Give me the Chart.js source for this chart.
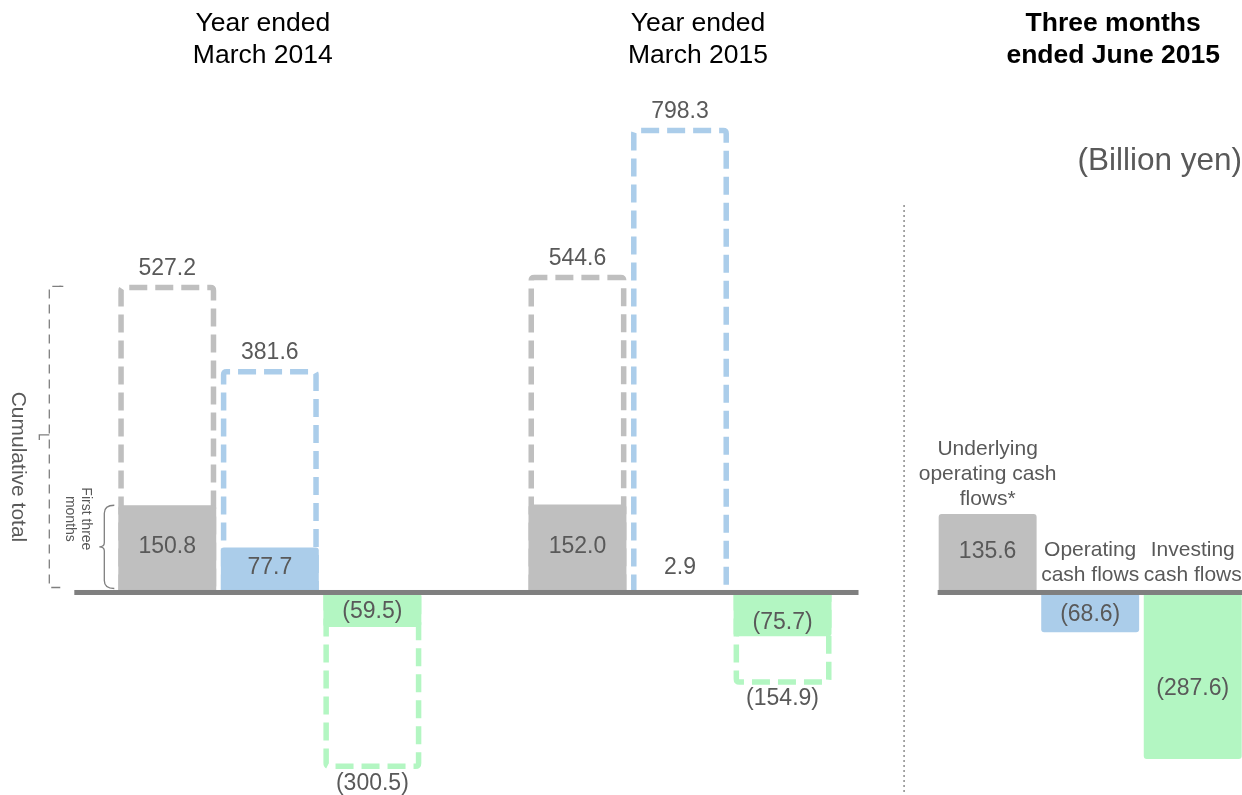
<!DOCTYPE html>
<html>
<head>
<meta charset="utf-8">
<script src="https://cdn.jsdelivr.net/npm/chart.js@4.4.1/dist/chart.umd.min.js"></script>
<style>
html,body{margin:0;padding:0;background:#fff;overflow:hidden;}
#wrap{position:relative;width:1244px;height:795px;}
</style>
</head>
<body>
<div id="wrap"><canvas id="c"></canvas></div>
<script>
// ---- data ----
const categories = [
  'Underlying operating cash flows* (FY2014)', 'Operating cash flows (FY2014)', 'Investing cash flows (FY2014)', '',
  'Underlying operating cash flows* (FY2015)', 'Operating cash flows (FY2015)', 'Investing cash flows (FY2015)', '',
  'Underlying operating cash flows*', 'Operating cash flows', 'Investing cash flows'
];
const firstThreeMonths = [150.8, 77.7, -59.5, null, 152.0, 2.9, -75.7, null, 135.6, -68.6, -287.6];
const cumulativeTotal  = [527.2, 381.6, -300.5, null, 544.6, 798.3, -154.9, null, null, null, null];
const flowType = ['u','o','i',null,'u','o','i',null,'u','o','i'];
const periodTitles = [
  {lines:['Year ended','March 2014'], first:0, last:2, bold:false, dx:-7},
  {lines:['Year ended','March 2015'], first:4, last:6, bold:false, dx:18},
  {lines:['Three months','ended June 2015'], first:8, last:10, bold:true, dx:23}
];
const q1Labels = [
  {slot:8, lines:['Underlying','operating cash','flows*']},
  {slot:9, lines:['Operating','cash flows']},
  {slot:10, lines:['Investing','cash flows']}
];
const unitLabel = '(Billion yen)';
const axisLabel = 'Cumulative total';
const bracketLabel = ['First three','months'];

const COLORS = {u:'#BFBFBF', o:'#ABCDEA', i:'#B3F6C2'};
const TEXT = '#595959';
const FONT = '"Liberation Sans", Arial, sans-serif';

function fmt(v){
  return v < 0 ? '(' + Math.abs(v).toFixed(1) + ')' : v.toFixed(1);
}

function roundedOpenRect(ctx, l, r, t, base, rad){
  const dir = t < base ? 1 : -1;
  ctx.beginPath();
  ctx.moveTo(l, base);
  ctx.lineTo(l, t + dir*rad);
  ctx.quadraticCurveTo(l, t, l + rad, t);
  ctx.lineTo(r - rad, t);
  ctx.quadraticCurveTo(r, t, r, t + dir*rad);
  ctx.lineTo(r, base);
  ctx.stroke();
}

const decor = {
  id:'decor',
  beforeDatasetsDraw(chart){
    const ctx = chart.ctx;
    const meta = chart.getDatasetMeta(1);
    ctx.save();
    ctx.lineWidth = 5.5;
    ctx.setLineDash([18, 8]);
    meta.data.forEach((el, i) => {
      const v = cumulativeTotal[i];
      if (v === null || v === undefined) return;
      const p = el.getProps(['x','y','base','width'], true);
      const l = p.x - p.width/2 + 2.75, r = p.x + p.width/2 - 2.75;
      ctx.strokeStyle = COLORS[flowType[i]];
      roundedOpenRect(ctx, l, r, p.y, p.base, 3);
    });
    ctx.restore();
  },
  afterDatasetsDraw(chart){
    const ctx = chart.ctx;
    const y = chart.scales.y;
    const zero = y.getPixelForValue(0);
    const m0 = chart.getDatasetMeta(0).data;
    const m1 = chart.getDatasetMeta(1).data;
    const bw = m0[0].width;
    // baselines
    ctx.save();
    ctx.fillStyle = '#7F7F7F';
    const leftStart = m0[0].x - bw/2 - 44;
    const leftEnd = m0[6].x + bw/2 + 27;
    ctx.fillRect(leftStart, zero - 2.5, leftEnd - leftStart, 5);
    const rStart = m0[8].x - bw/2 - 1;
    ctx.fillRect(rStart, zero - 2.5, chart.width - rStart, 5);
    // separator dotted line
    const sepX = (m0[6].x + m0[8].x)/2 + 19;
    ctx.strokeStyle = '#8C8C8C';
    ctx.lineWidth = 1.5;
    ctx.setLineDash([2, 3]);
    ctx.beginPath();
    ctx.moveTo(sepX, 205);
    ctx.lineTo(sepX, chart.height);
    ctx.stroke();
    ctx.setLineDash([]);

    ctx.textAlign = 'center';
    ctx.textBaseline = 'middle';
    ctx.fillStyle = TEXT;
    ctx.font = '23px ' + FONT;
    // solid bar labels
    m0.forEach((el, i) => {
      const v = firstThreeMonths[i];
      if (v === null || v === undefined) return;
      let ty;
      const h = Math.abs(el.base - el.y);
      const mid = (el.y + el.base)/2;
      if (h < 20) ty = Math.min(el.y, el.base) - 23;
      else if (v >= 0) ty = mid - 2;
      else if (h > 100) ty = mid + 13;
      else if (flowType[i] === 'i' && h > 40) ty = mid + 8;
      else ty = mid + 2;
      ctx.fillText(fmt(v), el.x, ty);
    });
    // cumulative labels
    m1.forEach((el, i) => {
      const v = cumulativeTotal[i];
      if (v === null || v === undefined) return;
      const ty = v >= 0 ? el.y - 19 : el.y + 17;
      ctx.fillText(fmt(v), el.x, ty);
    });
    // period titles
    periodTitles.forEach(pt => {
      const cx = (m0[pt.first].x + m0[pt.last].x)/2 + pt.dx;
      ctx.fillStyle = '#000';
      ctx.font = (pt.bold ? 'bold ' : '') + '26.5px ' + FONT;
      pt.lines.forEach((ln, k) => ctx.fillText(ln, cx, 24 + k*32));
    });
    // unit
    ctx.fillStyle = TEXT;
    ctx.font = '31.5px ' + FONT;
    ctx.textAlign = 'right';
    ctx.fillText(unitLabel, 1242, 161);
    ctx.textAlign = 'center';
    // q1 category labels
    ctx.font = '21px ' + FONT;
    q1Labels.forEach(q => {
      const el = m0[q.slot];
      const n = q.lines.length;
      const top = Math.min(el.y, el.base);
      const last = q.slot === 8 ? top - 15 : zero - 17;
      q.lines.forEach((ln, k) => ctx.fillText(ln, el.x, last - (n-1-k)*25));
    });
    // cumulative total bracket
    const c0 = m1[0];
    const bTop = c0.y - 1, bBot = zero - 5;
    ctx.strokeStyle = '#7F7F7F';
    ctx.lineWidth = 1.3;
    ctx.setLineDash([9, 6]);
    const bx = leftStart - 25;
    ctx.beginPath();
    ctx.moveTo(bx + 12, bTop); ctx.lineTo(bx, bTop); ctx.lineTo(bx, bBot); ctx.lineTo(bx + 12, bBot);
    ctx.stroke();
    ctx.setLineDash([]);
    ctx.beginPath();
    ctx.moveTo(bx + 10, bTop); ctx.lineTo(bx + 14, bTop);
    const bMid = bTop + (bBot - bTop)/2 - 2;
    ctx.moveTo(bx, bMid); ctx.lineTo(bx - 10, bMid); ctx.lineTo(bx - 10, bMid + 5);
    ctx.stroke();
    // first three months brace
    const g0 = m0[0];
    const fTop = g0.y, fBot = zero - 4;
    const fx = g0.x - bw/2 - 16;
    const fMid = (fTop + fBot)/2;
    ctx.beginPath();
    ctx.moveTo(fx + 12, fTop);
    ctx.quadraticCurveTo(fx + 2, fTop, fx + 2, fTop + 8);
    ctx.lineTo(fx + 2, fMid - 4);
    ctx.quadraticCurveTo(fx + 2, fMid, fx - 3, fMid);
    ctx.quadraticCurveTo(fx + 2, fMid, fx + 2, fMid + 4);
    ctx.lineTo(fx + 2, fBot - 8);
    ctx.quadraticCurveTo(fx + 2, fBot, fx + 12, fBot);
    ctx.stroke();
    // rotated texts
    ctx.fillStyle = TEXT;
    ctx.save();
    ctx.translate(18, bMid + 32);
    ctx.rotate(Math.PI/2);
    ctx.font = '21px ' + FONT;
    ctx.fillText(axisLabel, 0, 0);
    ctx.restore();
    ctx.save();
    ctx.translate(fx - 16, fMid - 28);
    ctx.rotate(Math.PI/2);
    ctx.font = '14px ' + FONT;
    ctx.fillText(bracketLabel[0], 0, 0);
    ctx.fillText(bracketLabel[1], 0, 16);
    ctx.restore();
    ctx.restore();
  }
};

new Chart(document.getElementById('c'), {
  type:'bar',
  data:{
    labels: categories,
    datasets:[
      {
        label:'First three months',
        data:firstThreeMonths,
        backgroundColor: flowType.map(t => t ? COLORS[t] : 'transparent'),
        borderWidth:0,
        borderRadius:3,
        borderSkipped:'start',
        grouped:false,
        barPercentage:0.955,
        categoryPercentage:1
      },
      {
        label:'Cumulative total',
        data:cumulativeTotal,
        backgroundColor:'rgba(0,0,0,0)',
        borderWidth:0,
        grouped:false,
        barPercentage:0.955,
        categoryPercentage:1
      }
    ]
  },
  options:{
    responsive:true,
    maintainAspectRatio:false,
    animation:false,
    layout:{padding:{left:116,right:0,top:0,bottom:0}},
    plugins:{legend:{display:false}, tooltip:{enabled:false}, title:{display:false}},
    scales:{
      x:{display:false},
      y:{display:false, min:-350, max:1024}
    }
  },
  plugins:[decor]
});
</script>
</body>
</html>
